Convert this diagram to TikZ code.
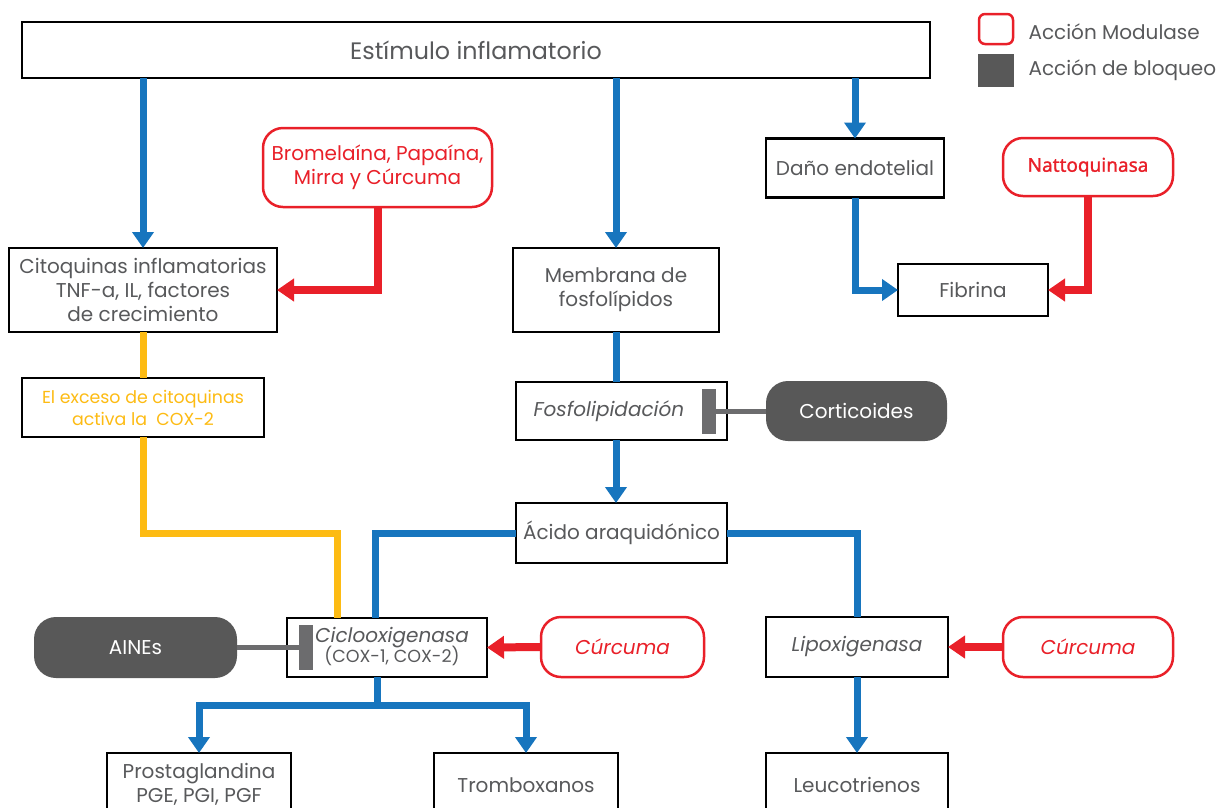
\documentclass[tikz,border=0pt]{standalone}
\usepackage{fontspec}
\setmainfont{Poppins}
\newfontfamily\nattofont[FakeBold=1.2]{Noto Sans}
\usetikzlibrary{arrows.meta}
\definecolor{flowblue}{RGB}{23,117,190}
\definecolor{modred}{RGB}{233,32,41}
\definecolor{coxyellow}{RGB}{253,187,19}
\definecolor{blockgray}{RGB}{88,88,88}
\definecolor{bargray}{RGB}{108,108,110}
\definecolor{txtgray}{RGB}{88,89,91}

\begin{document}
\begin{tikzpicture}[x=1pt,y=-1pt,
    box/.style={draw=black,line width=2.8pt,fill=white,inner sep=0pt,outer sep=0pt,
      text=txtgray,align=center,font=\fontsize{20}{24}\selectfont},
    modbox/.style={draw=modred,line width=2.5pt,rounded corners=20pt,fill=white,inner sep=0pt,
      outer sep=0pt,text=modred,align=center,font=\fontsize{20}{24}\selectfont},
    blockbox/.style={fill=blockgray,rounded corners=22pt,inner sep=0pt,outer sep=0pt,
      text=white,font=\fontsize{20}{24}\selectfont},
    flow/.style={draw=flowblue,line width=7pt},
    flowarrow/.style={flow,-{Triangle[width=21pt,length=16pt]}},
    modarrow/.style={draw=modred,line width=8pt,-{Triangle[width=22pt,length=17pt]}},
    coxline/.style={draw=coxyellow,line width=7pt},
    blockline/.style={draw=bargray,line width=5pt},
    bar/.style={fill=bargray,inner sep=0pt,outer sep=0pt,minimum width=14pt,minimum height=45pt},
    legtext/.style={anchor=west,text=txtgray,font=\fontsize{20}{24}\selectfont}
  ]

  \useasboundingbox (0,0) rectangle (1228,807);
  \clip (0,0) rectangle (1228,807);

  % legend
  \node[draw=modred,line width=2.5pt,rounded corners=6pt,minimum width=34pt,minimum height=30pt] (legmod) at (996,29) {};
  \node[legtext] (legmodtxt) at (1025,32) {Acción Modulase};
  \node[fill=blockgray,minimum width=36pt,minimum height=33pt] (legblock) at (996,70) {};
  \node[legtext] (legblocktxt) at (1025,70) {Acción de bloqueo};

  % boxes
  \node[box,minimum width=908pt,minimum height=56pt,font=\fontsize{23.8}{28}\selectfont] (estimulo) at (476,50) {Estímulo inflamatorio};

  \node[box,minimum width=268pt,minimum height=84pt] (citoq) at (143,290) {Citoquinas inflamatorias\\TNF-a, IL, factores\\de crecimiento};
  \node[modbox,minimum width=229pt,minimum height=79pt] (bromel) at (377.5,167.5) {Bromelaína, Papaína,\\Mirra y Cúrcuma};
  \node[box,minimum width=206pt,minimum height=84pt] (membrana) at (616,290) {Membrana de\\fosfolípidos};
  \node[box,minimum width=178pt,minimum height=59pt] (dano) at (855,168) {Daño endotelial};
  \node[modbox,minimum width=170pt,minimum height=58pt,font=\nattofont\fontsize{19}{24}\selectfont] (natto) at (1088,167) {Nattoquinasa};
  \node[box,minimum width=150pt,minimum height=52pt] (fibrina) at (973,290) {Fibrina};

  \node[box,minimum width=242pt,minimum height=59pt,text=coxyellow,font=\fontsize{17.4}{22}\selectfont] (exceso) at (143,407.5) {El exceso de citoquinas\\activa la\ \ COX-2};
  \node[box,minimum width=211pt,minimum height=58pt,text width=190pt,align=left] (fosfo) at (621.5,411) {\hspace*{7pt}\itshape Fosfolipidación};
  \node[bar] (fosfobar) at ([xshift=-18pt]fosfo.east) {};
  \node[blockbox,minimum width=181pt,minimum height=60pt] (cortic) at (856.5,411) {Corticoides};

  \node[box,minimum width=211pt,minimum height=60pt] (acido) at (621.5,533) {Ácido araquidónico};

  \node[box,minimum width=200pt,minimum height=59pt] (ciclo) at (387,647.5) {\hspace*{10pt}\begin{tabular}{@{}c@{}}\itshape Ciclooxigenasa\\[-4pt]{\fontsize{17.5}{21}\selectfont(COX-1, COX-2)}\end{tabular}};
  \node[bar] (ciclobar) at ([xshift=18.5pt]ciclo.west) {};
  \node[blockbox,minimum width=203pt,minimum height=61pt] (aines) at (135.5,647.5) {AINEs};
  \node[modbox,minimum width=163pt,minimum height=60pt,font=\itshape\fontsize{20}{24}\selectfont] (curcumaA) at (622.5,647) {Cúrcuma};
  \node[box,minimum width=182pt,minimum height=60pt,font=\itshape\fontsize{20}{24}\selectfont] (lipo) at (857,647) {Lipoxigenasa};
  \node[modbox,minimum width=170pt,minimum height=60pt,font=\itshape\fontsize{20}{24}\selectfont] (curcumaB) at (1088,647) {Cúrcuma};

  \node[box,minimum width=184pt,minimum height=62pt,anchor=north] (prosta) at (199,753) {Prostaglandina\\PGE, PGI, PGF};
  \node[box,minimum width=184pt,minimum height=64pt,anchor=north] (trombo) at (526,753) {Tromboxanos};
  \node[box,minimum width=182pt,minimum height=64pt,anchor=north] (leuco) at (857,753) {Leucotrienos};

  % connectors
  \draw[flowarrow] (citoq.north |- estimulo.south) -- (citoq.north);
  \draw[flowarrow] (membrana.north |- estimulo.south) -- (membrana.north);
  \draw[flowarrow] (dano.north |- estimulo.south) -- (dano.north);

  \draw[modarrow] (bromel.south) |- (citoq.east);
  \draw[flowarrow] (dano.south) |- (fibrina.west);
  \draw[modarrow] (natto.south) |- (fibrina.east);

  \draw[coxline] (citoq.south) -- (exceso.north);
  \draw[coxline] (exceso.south) |- ([xshift=50pt]ciclo.north west |- acido.west) -- ([xshift=50pt]ciclo.north west);

  \draw[flow] (membrana.south) -- (membrana.south |- fosfo.north);
  \draw[flowarrow] (membrana.south |- fosfo.south) -- (membrana.south |- acido.north);
  \draw[blockline] (cortic.west) -- (fosfobar.east);

  \draw[flow] (acido.west) -| ([xshift=88pt]ciclo.north west);
  \draw[flow] (acido.east) -| (lipo.north);

  \draw[blockline] (aines.east) -- (ciclobar.west);
  \draw[modarrow] (curcumaA.west) -- (ciclo.east);
  \draw[modarrow] (curcumaB.west) -- (lipo.east);

  \coordinate (coxsplit) at ([xshift=-10pt,yshift=-28pt]ciclo.south);
  \draw[flow] ([xshift=-10pt]ciclo.south) -- (coxsplit);
  \draw[flowarrow] (coxsplit) -| (prosta.north);
  \draw[flowarrow] (coxsplit) -| (trombo.north);
  \draw[flowarrow] (lipo.south) -- (leuco.north);

\end{tikzpicture}
\end{document}
